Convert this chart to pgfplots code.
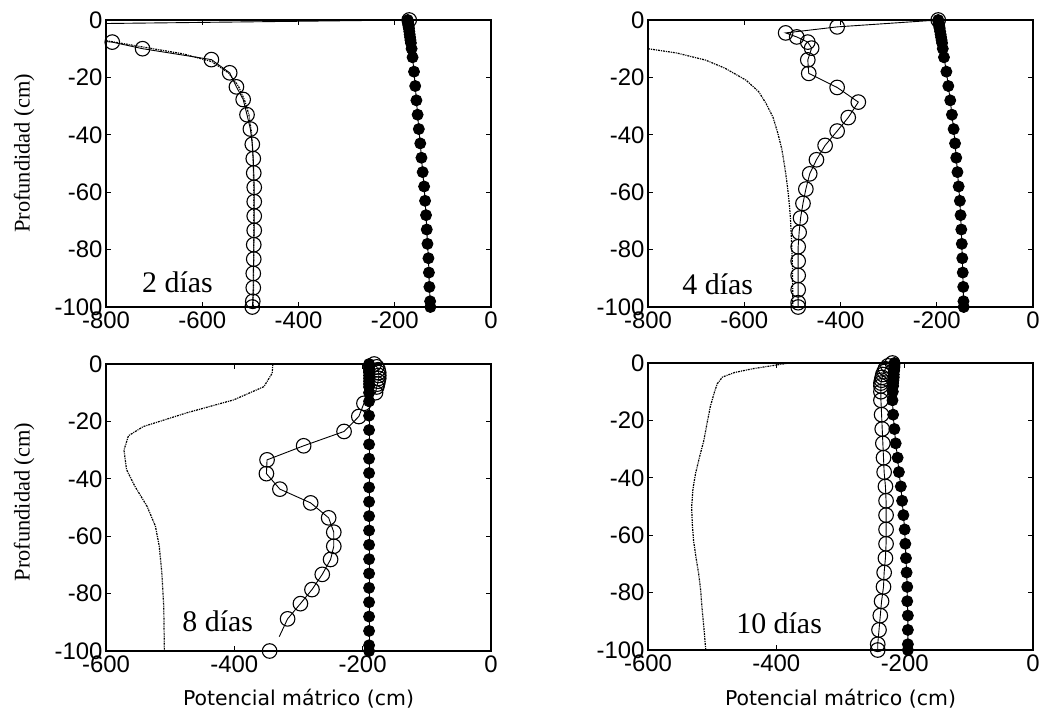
\documentclass[border=0pt]{standalone}
\usepackage{pgfplots}
\pgfplotsset{compat=1.18}
\usepackage{fontspec}
\setmainfont{Liberation Serif}
\setsansfont{Liberation Sans}
\newfontfamily\dejavu{DejaVu Sans}

\pgfplotsset{
  panel/.style={
    scale only axis, width=385bp, height=287bp,
    anchor=north west,
    ymin=-100, ymax=0, ytick={-100,-80,-60,-40,-20,0},
    axis line style={line width=1.4bp},
    tick style={line width=0.9bp, black},
    major tick length=5bp,
    tick align=inside,
    /pgf/number format/assume math mode=true,
    tick label style={font=\sffamily\fontsize{24}{24}\selectfont},
    xticklabel style={yshift=-1bp},
    ylabel style={font=\rmfamily\fontsize{22.5}{22.5}\selectfont},
    xlabel style={font=\dejavu\fontsize{20.5}{20.5}\selectfont},
    clip=true,
  },
  opencirc/.style={black, line width=0.9bp, mark=o, mark size=7.3bp, mark options={line width=1.1bp, solid}},
  fullcirc/.style={black, line width=0.9bp, mark=*, mark size=5.5bp, mark options={fill=black, solid}},
  dotline/.style={black, line width=1.2bp, dash pattern=on 2bp off 1bp on 1bp off 1bp},
}
\tikzset{daylabel/.style={font=\rmfamily\fontsize{30}{30}\selectfont, anchor=base west, inner sep=0pt}}

\begin{document}
\begin{tikzpicture}[x=1bp,y=1bp]
\path[use as bounding box] (0,0) rectangle (1044,-721);

% ---------------- 2 dias ----------------
\begin{axis}[panel, at={(106bp,-20bp)}, xmin=-800, xmax=0, xtick={-800,-600,-400,-200,0},
  ylabel={Profundidad (cm)},
  ylabel style={at={(axis description cs:-0.213,0.535)}, anchor=center}]
\addplot[dotline] coordinates {
(-800,-7.2) (-720,-9.5) (-640,-11.8) (-580,-14.5) (-545,-18.5) (-525,-23) (-512,-28)
(-503,-33) (-497,-40) (-494,-50) (-493,-60) (-493,-80) (-494,-100)};
\addplot[opencirc] coordinates {
(-170,0) (-1200,-2) (-787,-7.7) (-724,-10) (-581,-13.8) (-543,-18.4) (-529,-23.3)
(-515,-27.7) (-507,-33) (-500,-38) (-496,-43.3) (-494,-48.3) (-493,-53.3) (-492,-58.3)
(-492,-63.3) (-492,-68.3) (-492,-73.3) (-493,-78.3) (-493,-83.3) (-494,-88.3)
(-494,-93.3) (-495,-98) (-496,-100)};
\addplot[fullcirc] coordinates {
(-173,0) (-172.6,-0.5) (-172.3,-1) (-172,-1.5) (-171.5,-2) (-171,-2.5) (-170.5,-3)
(-169.8,-4) (-169,-5) (-168.2,-6) (-167.4,-7) (-166.5,-8) (-165,-10) (-163,-13)
(-160,-18) (-157.5,-23) (-155,-28) (-152.5,-33) (-150,-38) (-147,-43) (-144.5,-48)
(-142,-53) (-139,-58) (-137,-63) (-135,-68) (-133.5,-73) (-132,-78) (-130,-83)
(-129,-88) (-128,-93) (-126.5,-98) (-126,-100)};
\node[daylabel] at (axis description cs:0.0935,0.049) {2 días};
\end{axis}

% ---------------- 4 dias ----------------
\begin{axis}[panel, at={(648bp,-20bp)}, xmin=-800, xmax=0, xtick={-800,-600,-400,-200,0}]
\addplot[dotline] coordinates {
(-800,-10) (-740,-11.5) (-680,-14) (-640,-16.8) (-596,-21) (-570,-25) (-555,-29)
(-540,-34) (-530,-39.6) (-522,-45) (-516,-51) (-511,-57) (-507,-63) (-504,-69)
(-502,-76) (-500,-85) (-499,-100)};
\addplot[opencirc] coordinates {
(-197,0) (-407,-2.4) (-514,-4.5) (-491,-5.9) (-468,-7.7) (-460,-9.8) (-468,-13.9)
(-466,-18.6) (-407,-23.5) (-363,-28.6) (-384,-34) (-407,-38.7) (-432,-43.7)
(-450,-48.7) (-464,-53.6) (-472,-58.9) (-478,-63.9) (-483,-69) (-486,-74)
(-488,-79) (-488,-84) (-488,-89) (-488,-94) (-488,-98.5) (-488,-100)};
\addplot[fullcirc] coordinates {
(-197,0) (-196.5,-0.5) (-196,-1) (-195.5,-1.5) (-195,-2) (-194.5,-2.5) (-194,-3)
(-193,-4) (-192,-5) (-191,-6) (-190,-7) (-189,-8) (-187.5,-10) (-185,-13)
(-180,-18) (-176,-23) (-172,-28) (-168.5,-33) (-165,-38) (-162,-43) (-159.5,-48)
(-157,-53) (-154.5,-58) (-152,-63) (-150.5,-68) (-149,-73) (-148,-78) (-147,-83)
(-146,-88) (-145,-93) (-144.5,-98) (-144,-100)};
\node[daylabel] at (axis description cs:0.089,0.045) {4 días};
\end{axis}

% ---------------- 8 dias ----------------
\begin{axis}[panel, at={(106bp,-364bp)}, xmin=-600, xmax=0, xtick={-600,-400,-200,0},
  ylabel={Profundidad (cm)},
  ylabel style={at={(axis description cs:-0.213,0.519)}, anchor=center},
  xlabel={Potencial mátrico (cm)},
  xlabel style={at={(axis description cs:0.5,-0.19)}, anchor=base}]
\addplot[dotline] coordinates {
(-340,0) (-341,-3.2) (-354,-7.9) (-401,-12.5) (-474,-17) (-542,-21.8) (-565,-25)
(-572,-30) (-568,-36.8) (-555,-42.6) (-536,-49.6) (-523,-56.5) (-517,-63.5)
(-513,-72.8) (-510,-84.4) (-509,-100)};
\addplot[fullcirc] coordinates {
(-190,0) (-190,-0.5) (-190,-1) (-190,-1.5) (-190,-2) (-190,-2.5) (-190,-3)
(-190,-4) (-190,-5) (-190,-6) (-190,-7) (-190,-8) (-190,-10) (-190,-13)
(-190,-18) (-190,-23) (-190,-28) (-190,-33) (-190,-38) (-190,-43) (-190,-48)
(-190,-53) (-190,-58) (-190,-63) (-190,-68) (-190,-73) (-190,-78) (-190,-83)
(-190,-88) (-190,-93) (-190,-98) (-190,-100)};
\addplot[opencirc] coordinates {
(-182,0) (-178,-1) (-176,-2) (-175,-3) (-175,-4) (-175,-5) (-176,-6) (-177,-7)
(-178,-8) (-180,-10) (-198,-13.7) (-206,-18.3) (-229,-23.5) (-292,-28.5)
(-349,-33.4) (-350,-38.2) (-329,-43.6) (-281,-48.4) (-253,-53.6) (-245,-58.6)
(-245,-63.5) (-250,-68.1) (-263,-73.3) (-279,-78.6) (-297,-83.5) (-317,-88.8)};
\addplot[black, line width=0.9bp] coordinates {(-317,-88.8) (-330,-95)};
\addplot[opencirc, only marks] coordinates {(-345,-100)};
\node[daylabel] at (axis description cs:0.198,0.069) {8 días};
\end{axis}

% ---------------- 10 dias ----------------
\begin{axis}[panel, at={(648bp,-363bp)}, xmin=-600, xmax=0, xtick={-600,-400,-200,0},
  xlabel={Potencial mátrico (cm)},
  xlabel style={at={(axis description cs:0.5,-0.192)}, anchor=base}]
\addplot[dotline] coordinates {
(-380,0) (-400,-0.7) (-437,-2) (-465,-3.3) (-484,-4.9) (-492,-7.2) (-497,-10.5)
(-503,-15.3) (-508,-21) (-513,-27) (-520,-33) (-526,-38.6) (-530,-44) (-532,-50.2)
(-531,-56) (-529,-61.9) (-525,-68) (-521,-73.5) (-518,-79) (-516,-85) (-513,-92)
(-510,-100)};
\addplot[opencirc] coordinates {
(-219,0) (-226,-1) (-230,-2) (-232,-3) (-234,-4) (-235,-5) (-236,-6) (-237,-7)
(-237,-8) (-237,-10) (-237,-13) (-236,-18) (-235,-23) (-234,-28) (-233,-33)
(-232,-38) (-230,-43) (-229,-48) (-229,-53) (-229,-58) (-229,-63) (-230,-68)
(-232,-73) (-233,-78) (-236,-83) (-238,-88) (-240,-93) (-242,-98) (-242,-100)};
\addplot[fullcirc] coordinates {
(-216,0) (-216,-0.5) (-216,-1) (-216,-1.5) (-216.5,-2) (-216.5,-2.5) (-217,-3)
(-217,-4) (-217,-5) (-217.5,-6) (-218,-7) (-218,-8) (-218.5,-10) (-219,-13)
(-218,-18) (-216,-23) (-214,-28) (-211,-33) (-209,-38) (-206,-43) (-204,-48)
(-202,-53) (-200,-58) (-199,-63) (-198,-68) (-197,-73) (-196,-78) (-196,-83)
(-195,-88) (-195,-93) (-195,-98) (-195,-100)};
\node[daylabel] at (axis description cs:0.229,0.056) {10 días};
\end{axis}
\end{tikzpicture}
\end{document}
